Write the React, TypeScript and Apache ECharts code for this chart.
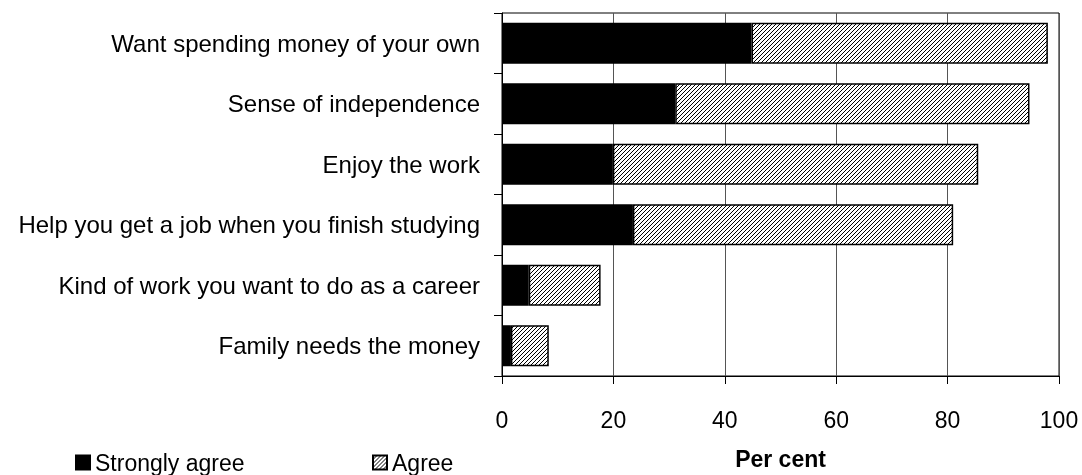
import React, { useEffect, useRef } from "react";
import * as echarts from "echarts";

const categories = [
  "Want spending money of your own",
  "Sense of independence",
  "Enjoy the work",
  "Help you get a job when you finish studying",
  "Kind of work you want to do as a career",
  "Family needs the money",
];
const stronglyAgree = [44.8, 31.1, 19.9, 23.5, 4.8, 1.6];
const agree = [53.2, 63.6, 65.6, 57.5, 12.9, 6.8];
const xTicks = { min: 0, max: 100, interval: 20 };
const seriesNames = ["Strongly agree", "Agree"];
const axisTitle = "Per cent";

function makeHatch(): HTMLCanvasElement {
  const c = document.createElement("canvas");
  const s = 4;
  c.width = s;
  c.height = s;
  const ctx = c.getContext("2d")!;
  ctx.fillStyle = "#ffffff";
  ctx.fillRect(0, 0, s, s);
  ctx.strokeStyle = "#000000";
  ctx.lineWidth = 1;
  ctx.beginPath();
  ctx.moveTo(-1, s + 1);
  ctx.lineTo(s + 1, -1);
  ctx.moveTo(-1, 1);
  ctx.lineTo(1, -1);
  ctx.moveTo(s - 1, s + 1);
  ctx.lineTo(s + 1, s - 1);
  ctx.stroke();
  return c;
}

const FONT = "'Liberation Sans', Arial, sans-serif";

export default function App() {
  const ref = useRef<HTMLDivElement>(null);
  useEffect(() => {
    if (!ref.current) return;
    const chart = echarts.init(ref.current, undefined, { renderer: "svg" });
    const hatch = makeHatch();
    chart.setOption({
      animation: false,
      textStyle: { fontFamily: FONT, color: "#000" },
      grid: {
        left: 502,
        right: 23,
        top: 13,
        bottom: 88,
        show: true,
        borderColor: "#000",
        borderWidth: 1,
      },
      legend: [
        {
          data: [seriesNames[0]],
          left: 75,
          top: 451,
          padding: 0,
          icon: "rect",
          itemWidth: 14,
          itemHeight: 14,
          itemGap: 6,
          textStyle: { fontSize: 23, color: "#000", fontFamily: FONT },
        },
        {
          data: [seriesNames[1]],
          left: 372,
          top: 451,
          padding: 0,
          icon: "rect",
          itemWidth: 14,
          itemHeight: 14,
          textStyle: { fontSize: 23, color: "#000", fontFamily: FONT },
        },
      ],
      xAxis: {
        type: "value",
        min: xTicks.min,
        max: xTicks.max,
        interval: xTicks.interval,
        name: axisTitle,
        nameLocation: "middle",
        nameGap: 71,
        nameTextStyle: { fontSize: 23, fontWeight: "bold", color: "#000", fontFamily: FONT },
        axisLine: { show: true, lineStyle: { color: "#000", width: 1 } },
        axisTick: { show: true, length: 8, lineStyle: { color: "#000" } },
        axisLabel: { fontSize: 23, color: "#000", margin: 32, fontFamily: FONT },
        splitLine: { show: true, lineStyle: { color: "#555", width: 1 } },
      },
      yAxis: {
        type: "category",
        data: categories,
        inverse: true,
        axisLine: { show: true, lineStyle: { color: "#000", width: 1 } },
        axisTick: { show: true, length: 8, interval: 0, lineStyle: { color: "#000" } },
        axisLabel: { fontSize: 24, color: "#000", margin: 22, interval: 0, fontFamily: FONT },
        splitLine: { show: false },
      },
      series: [
        {
          name: seriesNames[0],
          type: "bar",
          stack: "total",
          data: stronglyAgree,
          barCategoryGap: "32%",
          itemStyle: { color: "#000", borderColor: "#000", borderWidth: 1.5 },
        },
        {
          name: seriesNames[1],
          type: "bar",
          stack: "total",
          data: agree,
          barCategoryGap: "32%",
          itemStyle: {
            color: { image: hatch, repeat: "repeat" },
            borderColor: "#000",
            borderWidth: 1.5,
          },
        },
      ],
    });
    return () => chart.dispose();
  }, []);
  return (
    <div
      ref={ref}
      style={{ position: "fixed", left: 0, top: 0, width: 1082, height: 475 }}
    />
  );
}
